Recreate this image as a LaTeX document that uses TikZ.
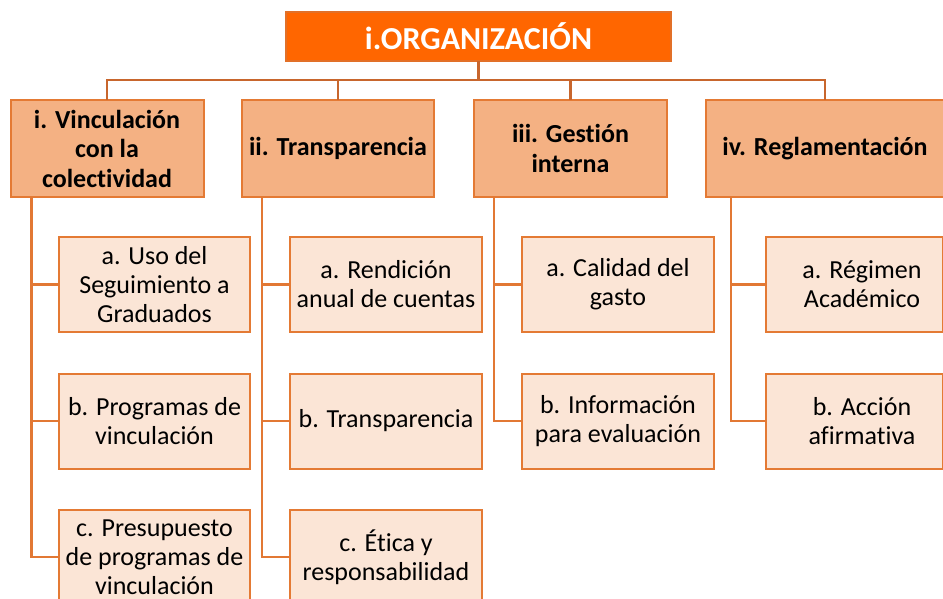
\documentclass[tikz,border=0pt]{standalone}
\usepackage{fontspec}
\setmainfont{Carlito}[Ligatures=NoCommon]
\definecolor{topfill}{RGB}{255,102,0}
\definecolor{topborder}{RGB}{226,112,40}
\definecolor{onefill}{RGB}{244,177,131}
\definecolor{twofill}{RGB}{251,229,214}
\definecolor{boxborder}{RGB}{228,122,52}
\definecolor{connA}{RGB}{200,102,45}
\definecolor{connB}{RGB}{226,120,52}
\tikzset{
 lvlzero/.style={draw=topborder, fill=topfill, line width=1.5pt, minimum width=385pt, minimum height=49pt, inner sep=0pt, outer sep=0pt, text=white, font=\fontsize{32}{36}\selectfont\bfseries},
 lvlone/.style={draw=boxborder, fill=onefill, line width=2pt, minimum height=97pt, inner sep=0pt, outer sep=0pt, align=center, font=\fontsize{26}{29.5}\selectfont\bfseries},
 lvltwo/.style={draw=boxborder, fill=twofill, line width=2pt, minimum height=95pt, minimum width=192pt, inner sep=0pt, outer sep=0pt, align=center, font=\fontsize{26}{29}\selectfont},
 plainlabel/.style={inner sep=0pt, align=center, font=\fontsize{26}{29}\selectfont},
 conn/.style={draw=connA, line width=2.2pt},
 trunk/.style={draw=connB, line width=2.2pt},
}
\begin{document}
\begin{tikzpicture}[x=1pt,y=-1pt]
\clip (0,0) rectangle (943,598);
\fill[white] (0,0) rectangle (943,598);
% top
\node[lvlzero] (org) at (478.5,36.5) {i.ORGANIZACIÓN};
% level one
\node[lvlone, minimum width=193pt] (vin) at (107,148.5) {i. Vinculación\\con la\\colectividad};
\node[lvlone, minimum width=192pt] (tra) at (338,148.5) {ii. Transparencia};
\node[lvlone, minimum width=193pt] (ges) at (570.5,148.5) {iii. Gestión\\interna};
\node[lvlone, minimum width=238pt] (reg) at (825,148.5) {iv. Reglamentación};
% connectors top
\draw[conn] (org.south) -- ++(0,19) -| (vin.north);
\draw[conn] (org.south) -- ++(0,19) -| (tra.north);
\draw[conn] (org.south) -- ++(0,19) -| (ges.north);
\draw[conn] (org.south) -- ++(0,19) -| (reg.north);
% level two
\node[lvltwo, minimum width=191pt] (via) at (154.5,284.5) {a. Uso del\\Seguimiento a\\Graduados};
\node[lvltwo, minimum width=191pt] (vib) at (154.5,421) {b. Programas de\\vinculación};
\node[lvltwo, minimum width=191pt] (vic) at (154.5,557) {c. Presupuesto\\de programas de\\vinculación};
\node[lvltwo] (tra1) at (386,284.5) {a. Rendición\\anual de cuentas};
\node[lvltwo] (tra2) at (386,421) {b. Transparencia};
\node[lvltwo] (tra3) at (386,557) {c. Ética y\\responsabilidad};
\node[lvltwo] (ges1) at (618,284.5) {a. Calidad del\\gasto};
\node[lvltwo] (ges2) at (618,421) {b. Información\\para evaluación};
\node[lvltwo, minimum width=177pt] (reg1) at (854.5,284.5) {};
\node[plainlabel] (reg1t) at (862,284.5) {a. Régimen\\Académico};
\node[lvltwo, minimum width=177pt] (reg2) at (854.5,421) {};
\node[plainlabel] (reg2t) at (862,421) {b. Acción\\afirmativa};
% trunks
\draw[trunk] ([xshift=21pt]vin.south west) |- (via.west);
\draw[trunk] ([xshift=21pt]vin.south west) |- (vib.west);
\draw[trunk] ([xshift=21pt]vin.south west) |- (vic.west);
\draw[trunk] ([xshift=20pt]tra.south west) |- (tra1.west);
\draw[trunk] ([xshift=20pt]tra.south west) |- (tra2.west);
\draw[trunk] ([xshift=20pt]tra.south west) |- (tra3.west);
\draw[trunk] ([xshift=20pt]ges.south west) |- (ges1.west);
\draw[trunk] ([xshift=20pt]ges.south west) |- (ges2.west);
\draw[trunk] ([xshift=25pt]reg.south west) |- (reg1.west);
\draw[trunk] ([xshift=25pt]reg.south west) |- (reg2.west);
\end{tikzpicture}
\end{document}
